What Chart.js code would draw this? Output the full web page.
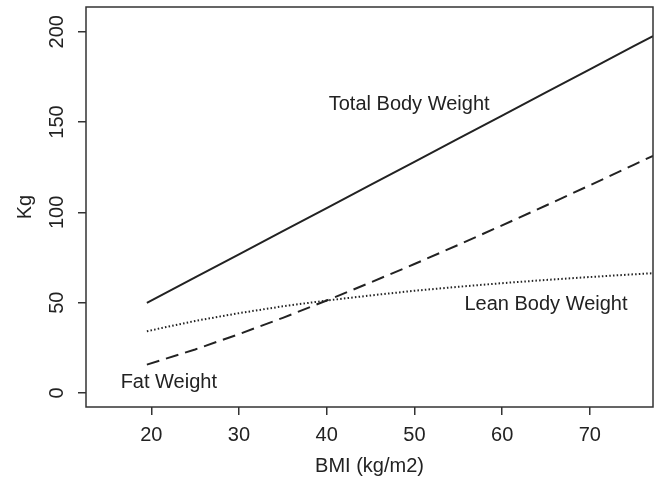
<!DOCTYPE html>
<html lang="en">
<head>
    <meta charset="UTF-8">
    <title>Body weight by BMI</title>
    <style>
        html, body { margin: 0; padding: 0; background: #fff; }
        #wrap { width: 654px; height: 479px; }
    </style>
</head>
<body>
    <div id="wrap"><canvas id="bmiChart" width="654" height="479"></canvas></div>

    <script src="https://cdn.jsdelivr.net/npm/chart.js"></script>
    <script>
        // values
        const bmi = [19.5, 25, 30, 35, 40, 45, 50, 55, 60, 65, 70, 75, 77.2];
        const totalWeight = [49.9, 64.0, 76.8, 89.6, 102.4, 115.2, 128.0, 140.8, 153.6, 166.4, 179.2, 192.0, 197.6];
        const leanWeight = [34.2, 39.9, 44.2, 48.0, 51.2, 54.0, 56.6, 58.8, 60.8, 62.6, 64.2, 65.7, 66.3];
        const fatWeight = [15.7, 24.1, 32.6, 41.6, 51.2, 61.2, 71.4, 82.0, 92.8, 103.8, 115.0, 126.3, 131.3];
        const xTicks = [20, 30, 40, 50, 60, 70];
        const yTicks = [0, 50, 100, 150, 200];

        // text labels placed in data units
        const curveLabels = [
            { text: 'Total Body Weight', x: 49.4, y: 156.6 },
            { text: 'Lean Body Weight', x: 65.0, y: 45.8 },
            { text: 'Fat Weight', x: 22.0, y: 2.8 }
        ];

        const ink = '#222';
        const fontFamily = '"Liberation Sans", Arial, Helvetica, sans-serif';
        Chart.defaults.font.family = fontFamily;

        const toPoints = (ys) => bmi.map((b, i) => ({ x: b, y: ys[i] }));

        // no extra room for label overflow, the frame is fixed
        const noPad = (s) => {
            s.paddingTop = 0; s.paddingBottom = 0;
            s.paddingLeft = 0; s.paddingRight = 0;
        };

        // frame round the plot + curve labels
        const boxAndLabels = {
            id: 'boxAndLabels',
            afterDatasetsDraw(chart) {
                const { ctx, chartArea: a, scales: { x, y } } = chart;
                ctx.save();
                ctx.strokeStyle = '#333';
                ctx.lineWidth = 1.5;
                ctx.strokeRect(a.left, a.top, a.right - a.left, a.bottom - a.top);
                ctx.fillStyle = ink;
                ctx.font = '20px ' + fontFamily;
                ctx.textAlign = 'center';
                ctx.textBaseline = 'alphabetic';
                curveLabels.forEach(l => {
                    ctx.fillText(l.text, x.getPixelForValue(l.x), y.getPixelForValue(l.y));
                });
                ctx.restore();
            }
        };

        const ctx = document.getElementById('bmiChart').getContext('2d');
        new Chart(ctx, {
            type: 'line',
            data: {
                datasets: [
                    {
                        label: 'Total Body Weight',
                        data: toPoints(totalWeight),
                        borderColor: ink,
                        borderWidth: 2
                    },
                    {
                        label: 'Lean Body Weight',
                        data: toPoints(leanWeight),
                        borderColor: ink,
                        borderWidth: 2,
                        borderDash: [1.5, 2.2]
                    },
                    {
                        label: 'Fat Weight',
                        data: toPoints(fatWeight),
                        borderColor: ink,
                        borderWidth: 2,
                        borderDash: [13, 7]
                    }
                ]
            },
            options: {
                responsive: false,
                animation: false,
                layout: { padding: { top: 7, right: 1, left: 0, bottom: 0 } },
                elements: { point: { radius: 0 }, line: { tension: 0 } },
                plugins: {
                    legend: { display: false },
                    tooltip: { enabled: false }
                },
                scales: {
                    x: {
                        type: 'linear',
                        min: 12.56,
                        max: 77.2,
                        afterBuildTicks: (s) => { s.ticks = xTicks.map(v => ({ value: v })); },
                        afterFit: (s) => { s.height = 72; noPad(s); },
                        grid: { drawOnChartArea: false, tickLength: 8, color: '#333', lineWidth: 1.5 },
                        border: { display: false },
                        ticks: { color: ink, font: { size: 20 }, padding: 8, maxRotation: 0, autoSkip: false },
                        title: { display: true, text: 'BMI (kg/m2)', color: ink, font: { size: 20 }, padding: { top: 0, bottom: 1 } }
                    },
                    y: {
                        type: 'linear',
                        min: -7.76,
                        max: 213.7,
                        afterBuildTicks: (s) => { s.ticks = yTicks.map(v => ({ value: v })); },
                        afterFit: (s) => { s.width = 86; noPad(s); },
                        grid: { drawOnChartArea: false, tickLength: 8, color: '#333', lineWidth: 1.5 },
                        border: { display: false },
                        ticks: { color: ink, font: { size: 20 }, padding: 4, minRotation: 90, maxRotation: 90, crossAlign: 'center', autoSkip: false },
                        title: { display: true, text: 'Kg', color: ink, font: { size: 20 }, padding: { top: 13, bottom: 0 } }
                    }
                }
            },
            plugins: [boxAndLabels]
        });
    </script>
</body>
</html>
